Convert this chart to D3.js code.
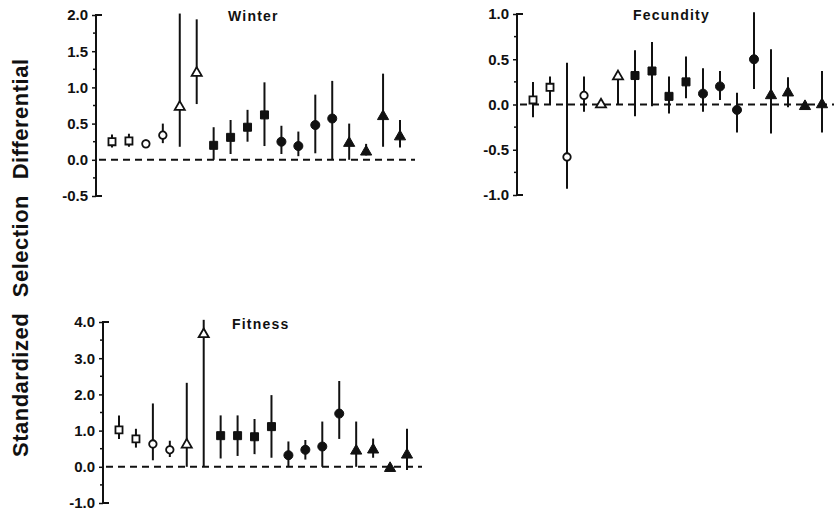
<!DOCTYPE html>
<html lang="en">
<head>
  <meta charset="UTF-8">
  <title>Standardized Selection Differential</title>
  <script src="https://d3js.org/d3.v7.min.js"></script>
  <style>
    body { margin: 0; background: #fff; }
    text { font-family: Arial, "Liberation Sans", sans-serif; font-weight: bold; fill: #111; }
  </style>
</head>
<body>

<div id="chart"></div>

<script>
  // 18 groups, same marker sequence in every panel
  const groups = d3.range(18);
  const shapes = ["os","os","oc","oc","ot","ot","fs","fs","fs","fs","fc","fc","fc","fc","ft","ft","ft","ft"];

  // Winter
  const winterVal = [0.25, 0.26, 0.22, 0.34, 0.73, 1.20, 0.20, 0.31, 0.45, 0.62, 0.25, 0.19, 0.48, 0.57, 0.23, 0.11, 0.60, 0.32];
  const winterLo  = [0.17, 0.18, 0.17, 0.23, 0.18, 0.77, 0.00, 0.08, 0.25, 0.19, 0.08, 0.05, 0.09, 0.00, 0.00, 0.06, 0.18, 0.17];
  const winterHi  = [0.35, 0.36, 0.28, 0.50, 2.02, 1.94, 0.45, 0.55, 0.69, 1.07, 0.47, 0.39, 0.90, 1.09, 0.50, 0.22, 1.19, 0.55];
  const winterTicks = [-0.5, 0.0, 0.5, 1.0, 1.5, 2.0];

  // Fecundity
  const fecVal = [0.05, 0.19, -0.58, 0.10, 0.00, 0.31, 0.32, 0.37, 0.09, 0.25, 0.12, 0.20, -0.06, 0.50, 0.10, 0.13, -0.02, 0.00];
  const fecLo  = [-0.14, 0.00, -0.93, -0.08, -0.02, 0.00, -0.13, -0.02, -0.10, 0.07, -0.08, 0.05, -0.31, 0.17, -0.32, -0.03, -0.04, -0.31];
  const fecHi  = [0.25, 0.31, 0.46, 0.31, 0.02, 0.35, 0.60, 0.69, 0.31, 0.53, 0.40, 0.37, 0.13, 1.02, 0.61, 0.30, 0.00, 0.37];
  const fecTicks = [-1.0, -0.5, 0.0, 0.5, 1.0];

  // Fitness
  const fitVal = [1.02, 0.77, 0.63, 0.47, 0.61, 3.66, 0.86, 0.86, 0.83, 1.11, 0.32, 0.47, 0.56, 1.47, 0.44, 0.47, -0.04, 0.33];
  const fitLo  = [0.77, 0.53, 0.18, 0.27, 0.00, 0.00, 0.23, 0.30, 0.35, 0.25, 0.00, 0.20, 0.00, 0.77, 0.00, 0.25, -0.07, -0.09];
  const fitHi  = [1.42, 1.05, 1.75, 0.72, 2.32, 4.06, 1.42, 1.42, 1.32, 1.98, 0.70, 0.74, 1.25, 2.37, 1.25, 0.78, 0.00, 1.05];
  const fitTicks = [-1.0, 0.0, 1.0, 2.0, 3.0, 4.0];

  const width = 834, height = 520;
  const svg = d3.select("#chart").append("svg")
      .attr("width", width)
      .attr("height", height);

  const panels = [
    { title: "Winter", val: winterVal, lo: winterLo, hi: winterHi, ticks: winterTicks, minor: 0.25,
      axisX: 96, top: 15, bottom: 196, xr: [112, 400], dashEnd: 415, titleX: 228, titleY: 21 },
    { title: "Fecundity", val: fecVal, lo: fecLo, hi: fecHi, ticks: fecTicks, minor: 0.25,
      axisX: 517, top: 14, bottom: 195, xr: [533, 822], dashEnd: 834, titleX: 633, titleY: 20 },
    { title: "Fitness", val: fitVal, lo: fitLo, hi: fitHi, ticks: fitTicks, minor: 0.5,
      axisX: 103, top: 322, bottom: 503, xr: [119, 407], dashEnd: 422, titleX: 232, titleY: 329 }
  ];

  const symType = { s: d3.symbolSquare, c: d3.symbolCircle, t: d3.symbolTriangle };
  const symSize = { os: 50, oc: 44, ot: 44, fs: 64, fc: 64, ft: 54 };

  panels.forEach(p => {
    const d0 = p.ticks[0], d1 = p.ticks[p.ticks.length - 1];
    const y = d3.scaleLinear().domain([d0, d1]).range([p.bottom, p.top]);
    const x = d3.scalePoint().domain(groups).range(p.xr);
    const g = svg.append("g");

    // y axis with left ticks, minor ticks and end caps
    const axis = d3.axisLeft(y).tickValues(p.ticks).tickSize(4).tickPadding(4)
        .tickFormat(d => d3.format(".1f")(d).replace("−", "-"));
    const ag = g.append("g").attr("transform", `translate(${p.axisX},0)`).call(axis);
    ag.select(".domain").remove();
    ag.selectAll("line").attr("stroke", "#111").attr("stroke-width", 1.5);
    ag.selectAll("text")
        .style("font-size", "15px")
        .style("font-weight", "bold")
        .attr("fill", "#111");

    const minorTicks = d3.range(d0, d1 + 1e-9, p.minor).filter(v => !p.ticks.some(t => Math.abs(t - v) < 1e-9));
    g.selectAll(".minor").data(minorTicks).enter().append("line")
        .attr("x1", p.axisX - 3).attr("x2", p.axisX)
        .attr("y1", d => y(d)).attr("y2", d => y(d))
        .attr("stroke", "#111").attr("stroke-width", 1.5);

    g.append("path")
        .attr("d", `M${p.axisX + 6},${y(d1)}H${p.axisX}V${y(d0)}H${p.axisX + 6}`)
        .attr("fill", "none").attr("stroke", "#111").attr("stroke-width", 2);

    // dashed zero line
    g.append("line")
        .attr("x1", p.axisX + 3).attr("x2", p.dashEnd)
        .attr("y1", y(0)).attr("y2", y(0))
        .attr("stroke", "#111").attr("stroke-width", 2)
        .attr("stroke-dasharray", "7,5");

    // error bars
    g.selectAll(".err").data(groups).enter().append("line")
        .attr("x1", i => x(i)).attr("x2", i => x(i))
        .attr("y1", i => y(p.lo[i])).attr("y2", i => y(p.hi[i]))
        .attr("stroke", "#111").attr("stroke-width", 2);

    // markers
    g.selectAll(".pt").data(groups).enter().append("path")
        .attr("transform", i => `translate(${x(i)},${y(p.val[i])})`)
        .attr("d", i => d3.symbol().type(symType[shapes[i][1]]).size(symSize[shapes[i]])())
        .attr("fill", i => shapes[i][0] === "o" ? "#fff" : "#111")
        .attr("stroke", "#111")
        .attr("stroke-width", i => shapes[i][0] === "o" ? 1.8 : 1);

    g.append("text")
        .attr("x", p.titleX).attr("y", p.titleY)
        .style("font-size", "14px")
        .style("letter-spacing", "1.2px")
        .text(p.title);
  });

  // shared y label
  svg.append("text")
      .attr("transform", "translate(28,457) rotate(-90)")
      .style("font-size", "22px")
      .style("letter-spacing", "0.5px")
      .style("word-spacing", "9px")
      .text("Standardized Selection Differential");
</script>

</body>
</html>
